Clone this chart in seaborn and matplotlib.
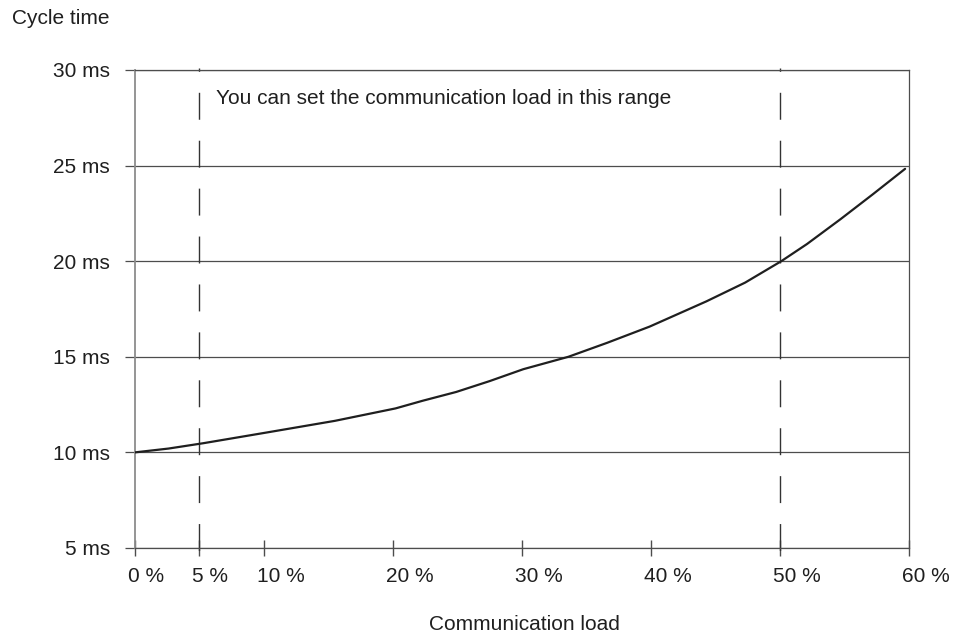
import matplotlib
matplotlib.use("Agg")
import matplotlib.pyplot as plt
import matplotlib.transforms as mtransforms
import seaborn as sns

# curva (carga em %, tempo de ciclo em ms)
LOAD = [0, 2.6, 5.3, 10.3, 15.5, 20.2, 22.3, 24.9, 27.5, 30.1, 33.6, 36.6,
        39.9, 44.3, 47.3, 50.1, 52.1, 54.7, 57.2, 59.7]
CYCLE = [10.0, 10.2, 10.48, 11.05, 11.65, 12.3, 12.7, 13.16, 13.73, 14.35, 15.0, 15.73,
         16.58, 17.9, 18.88, 20.0, 20.9, 22.2, 23.5, 24.83]

X_TICKS = [0, 5, 10, 20, 30, 40, 50, 60]
X_LABELS = [f"{v} %" for v in X_TICKS]
Y_TICKS = [5, 10, 15, 20, 25, 30]
Y_LABELS = [f"{v} ms" for v in Y_TICKS]
RANGE = [5, 50]  # faixa ajustavel
NOTE = "You can set the communication load in this range"

INK = "#1f1f1f"
GRID = "#4d4d4d"
FS = 15

sns.set_theme(style="white")
plt.rcParams["font.family"] = ["Liberation Sans", "DejaVu Sans"]

fig = plt.figure(figsize=(9.56, 6.38), dpi=100)
ax = fig.add_axes([0.1412, 0.1411, 0.8096, 0.7492])

sns.lineplot(x=LOAD, y=CYCLE, ax=ax, color=INK, linewidth=1.6, sort=False, zorder=3)

ax.set_xlim(0, 60)
ax.set_ylim(5, 30)
ax.set_xticks(X_TICKS, X_LABELS)
ax.set_yticks(Y_TICKS, Y_LABELS)
ax.yaxis.grid(True, color=GRID, linewidth=0.9)
ax.xaxis.grid(False)

for side in ["top", "bottom", "right"]:
    ax.spines[side].set_color(GRID)
    ax.spines[side].set_linewidth(0.9)
ax.spines["left"].set_color("#8c8c8c")
ax.spines["left"].set_linewidth(1.3)

ax.tick_params(axis="y", left=True, length=7.2, width=0.9, color=GRID,
               pad=10.8, labelsize=FS, labelcolor=INK)
ax.tick_params(axis="x", bottom=True, direction="inout", length=12, width=1.0,
               color=GRID, pad=8, labelsize=FS, labelcolor=INK)

# rotulos do eixo x alinhados a esquerda do tick
shift = mtransforms.ScaledTranslation(-0.07, 0, fig.dpi_scale_trans)
for lab in ax.get_xticklabels():
    lab.set_ha("left")
    lab.set_transform(lab.get_transform() + shift)

# linhas tracejadas da faixa
for xv in RANGE:
    ax.plot([xv, xv], [1.005, -0.021], transform=ax.get_xaxis_transform(),
            clip_on=False, color="#333333", linewidth=1.0,
            linestyle=(17.0, (19.4, 15.1)), zorder=2)

ax.text(6.3, 28.5, NOTE, fontsize=FS, ha="left", va="center", color=INK)

fig.text(12 / 956, 1 - 18 / 638, "Cycle time", fontsize=FS, ha="left", va="center", color=INK)
fig.text(524 / 956, 1 - 625 / 638, "Communication load", fontsize=FS, ha="center", va="center", color=INK)

fig.savefig("out.png", dpi=100)
